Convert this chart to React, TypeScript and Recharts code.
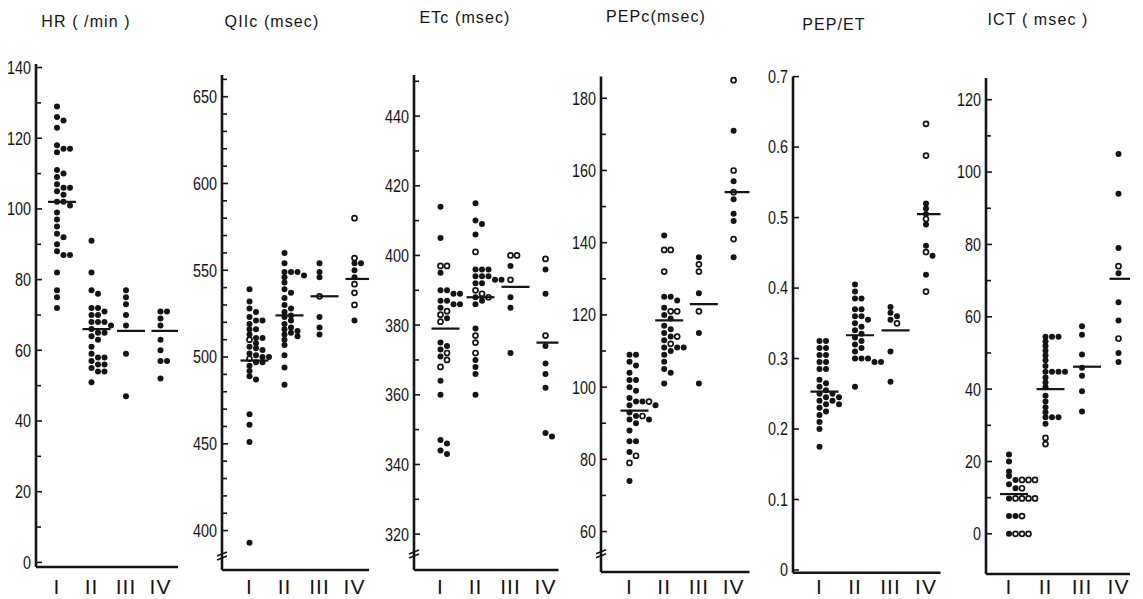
import React from 'react';
import { ScatterChart, Scatter, XAxis, YAxis } from 'recharts';

// ---------- categories & tick labels ----------
const categories = [1, 2, 3, 4];
const romanLabels = ['I', 'II', 'III', 'IV'];

// ---------- HR (/min) ----------
const hrFilled = [
  [129, 126, 125, 123, 118, 117, 117, 116, 111, 110, 109, 107, 106, 106, 105, 104, 102, 102, 101, 99, 97, 95, 93, 92, 90, 88, 87, 87, 82, 77, 75, 72],
  [91, 82, 77, 76, 72, 72, 71, 70, 70, 68, 68, 68, 67, 66, 65, 65, 64, 63, 61, 59, 58, 58, 57, 56, 56, 55, 54, 54, 51],
  [77, 75, 73, 70, 67, 59, 47],
  [71, 71, 69, 67, 63, 60, 57, 57, 52],
];
const hrOpen = [[], [], [], []];
const hrMean = [102, 66, 65.5, 65.5];
const hrMajor = [0, 20, 40, 60, 80, 100, 120, 140];
const hrMinor = [10, 30, 50, 70, 90, 110, 130];

// ---------- QIIc (msec) ----------
const qFilled = [
  [539, 532, 528, 526, 523, 521, 521, 519, 516, 516, 513, 511, 511, 508, 506, 505, 504, 502, 501, 500, 500, 497, 497, 495, 492, 489, 487, 467, 461, 451, 393],
  [560, 554, 549, 549, 549, 547, 546, 543, 539, 537, 534, 530, 528, 526, 524, 523, 521, 519, 517, 516, 515, 514, 513, 512, 510, 507, 501, 494, 484],
  [554, 549, 546, 523, 517, 513],
  [554, 554, 550, 546, 521],
];
const qOpen = [[510, 499], [], [535], [580, 557, 542, 537, 530]];
const qMean = [498, 524, 535, 545];
const qMajor = [400, 450, 500, 550, 600, 650];
const qMinor = [410, 420, 430, 440, 460, 470, 480, 490, 510, 520, 530, 540, 560, 570, 580, 590, 610, 620, 630, 640, 660];

// ---------- ETc (msec) ----------
const eFilled = [
  [414, 405, 395, 390, 390, 389, 389, 387, 387, 386, 386, 385, 382, 375, 374, 373, 371, 364, 360, 347, 346, 344, 343],
  [415, 410, 409, 406, 396, 396, 396, 394, 394, 394, 393, 393, 392, 392, 388, 387, 386, 379, 370, 368, 366, 360],
  [397, 388, 385, 372],
  [396, 389, 374, 369, 366, 362, 349, 348],
];
const eOpen = [[397, 397, 384, 383, 381, 372, 370, 368], [401, 390, 389, 388, 377, 375, 372], [400, 400, 393], [399, 377]];
const eMean = [379, 388, 391, 375];
const eMajor = [320, 340, 360, 380, 400, 420, 440];
const eMinor = [330, 350, 370, 390, 410, 430, 450];

// ---------- PEPc (msec) ----------
const pFilled = [
  [109, 109, 107, 106, 104, 102, 102, 100, 99, 97, 96, 96, 95, 95, 93, 92, 91, 91, 90, 88, 85, 85, 82, 74],
  [142, 125, 125, 124, 122, 120, 119, 117, 116, 115, 114, 113, 111, 111, 111, 110, 109, 107, 105, 104, 101],
  [136, 126, 115, 101],
  [171, 157, 152, 148, 146, 136],
];
const pOpen = [[96, 92, 81, 79], [138, 138, 132, 121, 121, 114, 112], [134, 132, 121], [185, 160, 154, 141]];
const pMean = [93.5, 118.5, 123, 154];
const pMajor = [60, 80, 100, 120, 140, 160, 180];
const pMinor = [70, 90, 110, 130, 150, 170];

// ---------- PEP/ET ----------
const rFilled = [
  [0.325, 0.325, 0.315, 0.315, 0.305, 0.305, 0.295, 0.295, 0.285, 0.285, 0.27, 0.265, 0.26, 0.255, 0.25, 0.25, 0.245, 0.245, 0.24, 0.24, 0.235, 0.235, 0.23, 0.225, 0.22, 0.21, 0.2, 0.175],
  [0.405, 0.395, 0.385, 0.385, 0.37, 0.37, 0.36, 0.36, 0.355, 0.35, 0.345, 0.34, 0.335, 0.33, 0.325, 0.32, 0.315, 0.31, 0.3, 0.3, 0.3, 0.295, 0.295, 0.26],
  [0.373, 0.365, 0.36, 0.355, 0.31, 0.267],
  [0.52, 0.513, 0.505, 0.49, 0.46, 0.446, 0.419],
];
const rOpen = [[], [], [0.35], [0.633, 0.588, 0.498, 0.451, 0.395]];
const rMean = [0.253, 0.333, 0.34, 0.505];
const rMajor = [0, 0.1, 0.2, 0.3, 0.4, 0.5, 0.6, 0.7];
const rMinor: number[] = [];

// ---------- ICT (msec) ----------
const iFilled = [
  [21.9, 20, 17.2, 16, 14.9, 13.7, 12.6, 9.8, 4.9, 4.9, 0],
  [54.5, 54.5, 54.5, 53.2, 51.9, 50.6, 49.3, 48, 46.4, 44.8, 44.8, 44.8, 44.8, 43.2, 41.8, 40.5, 38.2, 36.6, 35, 33.6, 32.2, 32.2, 32.2, 30.4],
  [57.4, 55, 49.6, 45.9, 43.7, 39.4, 33.8],
  [105, 94, 79, 72, 64, 59, 50, 47.5],
];
const iOpen = [[14.9, 14.9, 14.9, 12.6, 9.8, 9.8, 9.8, 9.8, 4.9, 0, 0, 0], [26.5, 24.8], [], [74, 54]];
const iMean = [11, 40, 46.2, 70.5];
const iMajor = [0, 20, 40, 60, 80, 100, 120];
const iMinor = [10, 30, 50, 70, 90, 110];

// ---------- layout ----------
type Layout = {
  axisX: number; endX: number; top: number; bottom: number;
  cat1X: number; catStep: number; yMin: number; yMax: number;
  titleX: number; titleY: number; breakAt?: number;
};

const INK = '#141414';
const FONT = "'Liberation Sans', Arial, Helvetica, sans-serif";
const LABEL_BASELINE = 594;

type PanelProps = {
  title: string;
  filled: number[][];
  open: number[][];
  mean: number[];
  majors: number[];
  minors: number[];
  L: Layout;
};

function Panel({ title, filled, open, mean, majors, minors, L }: PanelProps) {
  const YW = 40;
  const XH = 30;
  const RM = 4;
  const left = L.axisX - YW;
  const width = L.endX - left + RM;
  const xMin = 1 - (L.cat1X - L.axisX) / L.catStep;
  const xMax = 1 + (L.endX - L.cat1X) / L.catStep;
  const pxY = (L.bottom - L.top) / (L.yMax - L.yMin);
  const gap = 4 / pxY;
  const colStep = 6.5 / L.catStep;

  const filledPts: { x: number; y: number }[] = [];
  const openPts: { x: number; y: number }[] = [];
  categories.forEach((c, gi) => {
    const pts = [
      ...filled[gi].map((v) => ({ v, open: false })),
      ...open[gi].map((v) => ({ v, open: true })),
    ];
    pts.sort((a, b) => b.v - a.v);
    const cols: number[][] = [];
    pts.forEach((p) => {
      let k = 0;
      while (cols[k] && cols[k].some((u) => Math.abs(u - p.v) < gap - 1e-9)) k++;
      if (!cols[k]) cols[k] = [];
      cols[k].push(p.v);
      (p.open ? openPts : filledPts).push({ x: c + k * colStep, y: p.v });
    });
  });
  const meanPts = mean.map((m, i) => ({ x: categories[i], y: m }));
  const ticks = [...majors, ...minors, ...(L.breakAt != null ? [L.breakAt] : [])].sort((a, b) => a - b);

  const renderYTick = (props: any) => {
    const { x, y, payload } = props;
    const v = payload.value;
    if (L.breakAt != null && v === L.breakAt) {
      return (
        <g>
          <line x1={x - 5} y1={y + 1} x2={x + 5} y2={y - 3} stroke={INK} strokeWidth={1.6} />
          <line x1={x - 5} y1={y + 5} x2={x + 5} y2={y + 1} stroke={INK} strokeWidth={1.6} />
        </g>
      );
    }
    const isMajor = majors.includes(v);
    return (
      <g>
        <line x1={x} y1={y} x2={x + (isMajor ? 6 : 5)} y2={y} stroke={INK} strokeWidth={1.6} />
        {isMajor && (
          <text
            transform={`translate(${x - 5},${y + 6.4}) scale(0.8,1)`}
            textAnchor="end"
            fontSize={18}
            fontFamily={FONT}
            fill={INK}
          >
            {String(v)}
          </text>
        )}
      </g>
    );
  };

  const renderXTick = (props: any) => {
    const { x, y, payload } = props;
    return (
      <text
        x={x}
        y={y + (LABEL_BASELINE - L.bottom)}
        textAnchor="middle"
        fontSize={21}
        fontFamily={FONT}
        fill={INK}
        letterSpacing={1}
      >
        {romanLabels[payload.value - 1]}
      </text>
    );
  };

  return (
    <>
      <div
        style={{
          position: 'absolute',
          left: L.titleX,
          top: L.titleY - 9,
          transform: 'translateX(-50%)',
          whiteSpace: 'nowrap',
          fontFamily: FONT,
          fontSize: 16,
          lineHeight: '18px',
          letterSpacing: '1.1px',
          color: INK,
        }}
      >
        {title}
      </div>
      <div style={{ position: 'absolute', left, top: 0 }}>
        <ScatterChart
          width={width}
          height={599}
          margin={{ top: L.top, right: RM, bottom: 599 - L.bottom - XH, left: 0 }}
        >
          <XAxis
            type="number"
            dataKey="x"
            domain={[xMin, xMax]}
            allowDataOverflow
            ticks={categories}
            interval={0}
            height={XH}
            tickLine={false}
            tickSize={0}
            tickMargin={0}
            axisLine={{ stroke: INK, strokeWidth: 2.6 }}
            tick={renderXTick}
          />
          <YAxis
            type="number"
            dataKey="y"
            domain={[L.yMin, L.yMax]}
            allowDataOverflow
            ticks={ticks}
            interval={0}
            width={YW}
            tickLine={false}
            tickSize={0}
            tickMargin={0}
            axisLine={{ stroke: INK, strokeWidth: 2.6 }}
            tick={renderYTick}
          />
          <Scatter
            data={filledPts}
            isAnimationActive={false}
            shape={(p: any) => <circle cx={p.cx} cy={p.cy} r={3} fill={INK} />}
          />
          <Scatter
            data={openPts}
            isAnimationActive={false}
            shape={(p: any) => (
              <circle cx={p.cx} cy={p.cy} r={2.5} fill="#fff" stroke={INK} strokeWidth={1.7} />
            )}
          />
          <Scatter
            data={meanPts}
            isAnimationActive={false}
            shape={(p: any) => (
              <line x1={p.cx - 9} x2={p.cx + 19} y1={p.cy} y2={p.cy} stroke={INK} strokeWidth={2.2} />
            )}
          />
        </ScatterChart>
      </div>
    </>
  );
}

const layouts: Layout[] = [
  { axisX: 36, endX: 178, top: 64, bottom: 567, cat1X: 57, catStep: 34.5, yMin: -1.3, yMax: 141, titleX: 86, titleY: 22 },
  { axisX: 221.5, endX: 368.5, top: 75, bottom: 570, cat1X: 249, catStep: 35, yMin: 377.3, yMax: 662.5, titleX: 272, titleY: 22, breakAt: 386 },
  { axisX: 413.5, endX: 558, top: 75, bottom: 570, cat1X: 440, catStep: 35, yMin: 309.7, yMax: 451.8, titleX: 465, titleY: 18, breakAt: 314.6 },
  { axisX: 600.5, endX: 749, top: 76.6, bottom: 572, cat1X: 629, catStep: 34.7, yMin: 48.8, yMax: 186, titleX: 656, titleY: 17, breakAt: 54.1 },
  { axisX: 792.5, endX: 940, top: 76.6, bottom: 572.8, cat1X: 819, catStep: 35.5, yMin: -0.004, yMax: 0.7, titleX: 834, titleY: 25 },
  { axisX: 985.5, endX: 1129.5, top: 78, bottom: 574, cat1X: 1008.5, catStep: 36.5, yMin: -11.1, yMax: 126, titleX: 1038, titleY: 20 },
];

export default function App() {
  return (
    <div style={{ position: 'absolute', left: 0, top: 0, width: 1143, height: 599, background: '#fff', overflow: 'hidden' }}>
      <Panel title="HR ( /min )" filled={hrFilled} open={hrOpen} mean={hrMean} majors={hrMajor} minors={hrMinor} L={layouts[0]} />
      <Panel title="QIIc (msec)" filled={qFilled} open={qOpen} mean={qMean} majors={qMajor} minors={qMinor} L={layouts[1]} />
      <Panel title="ETc (msec)" filled={eFilled} open={eOpen} mean={eMean} majors={eMajor} minors={eMinor} L={layouts[2]} />
      <Panel title="PEPc(msec)" filled={pFilled} open={pOpen} mean={pMean} majors={pMajor} minors={pMinor} L={layouts[3]} />
      <Panel title="PEP/ET" filled={rFilled} open={rOpen} mean={rMean} majors={rMajor} minors={rMinor} L={layouts[4]} />
      <Panel title="ICT ( msec )" filled={iFilled} open={iOpen} mean={iMean} majors={iMajor} minors={iMinor} L={layouts[5]} />
    </div>
  );
}
